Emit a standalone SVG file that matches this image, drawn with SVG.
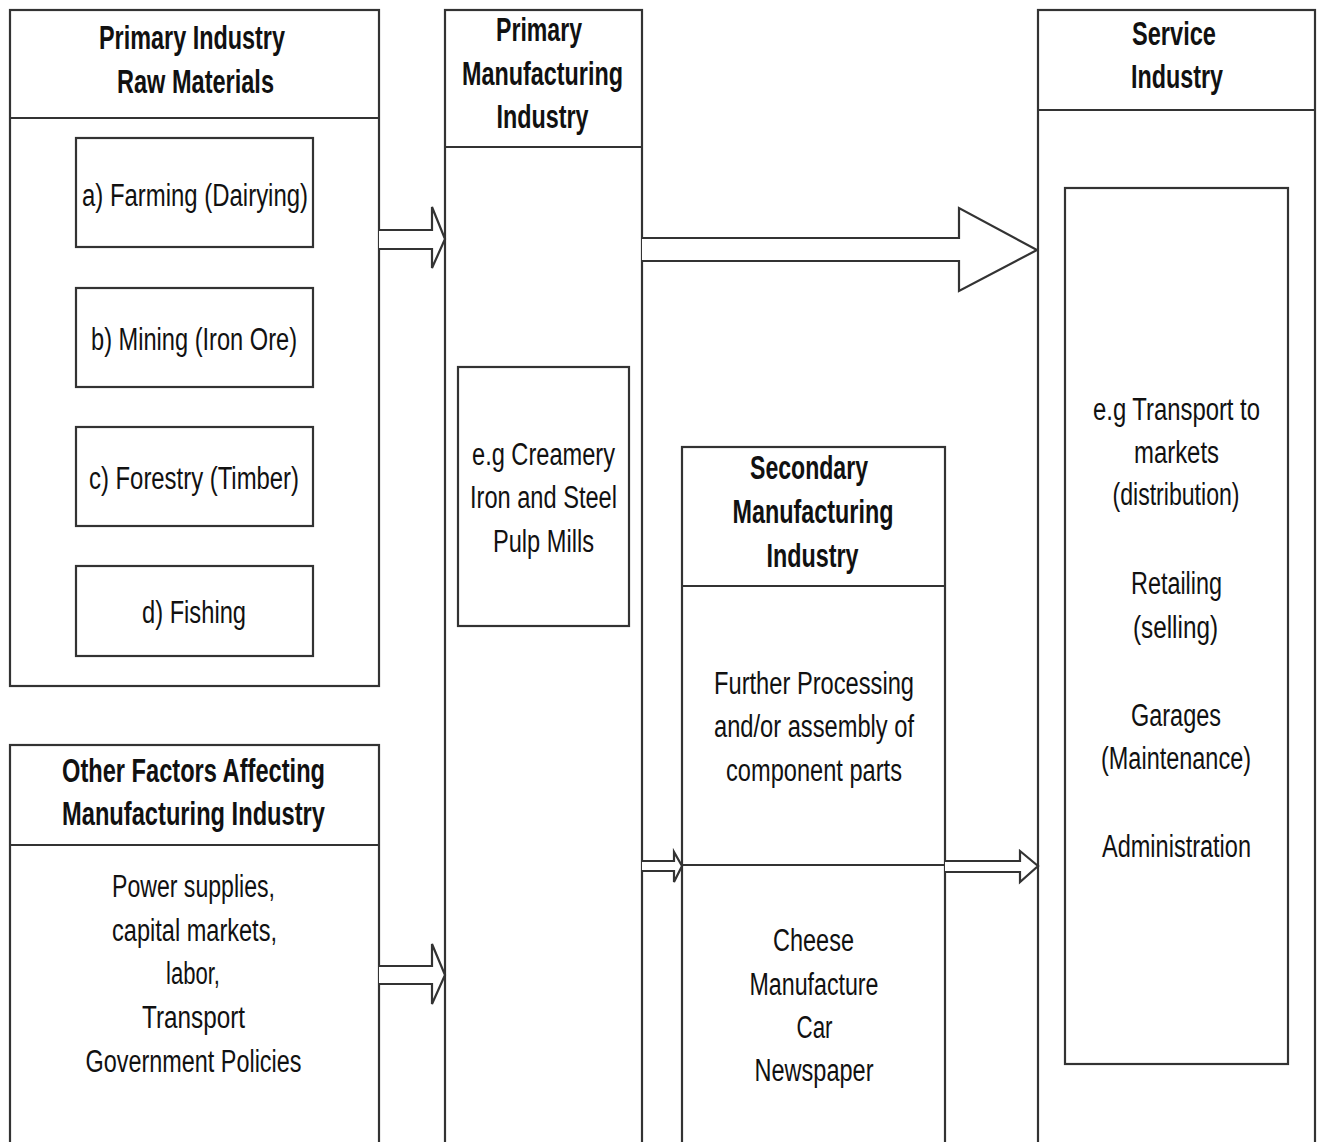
<svg xmlns="http://www.w3.org/2000/svg" width="1317" height="1142" viewBox="0 0 1317 1142">
<style>
.box{fill:#fff;stroke:#333;stroke-width:2.2}
.ln{stroke:#333;stroke-width:2.2;fill:none}
.arr{fill:#fff;stroke:#333;stroke-width:2.2;stroke-linejoin:miter}
text{font-family:"Liberation Sans",Arial,sans-serif;fill:#111;text-anchor:middle}
.h{font-size:33px;font-weight:bold}
.t{font-size:31px}
</style>
<rect width="1317" height="1142" fill="#fff"/>
<g id="primary-industry">
<rect class="box" x="10" y="10" width="369" height="676"/>
<line class="ln" x1="10" y1="118" x2="379" y2="118"/>
<text class="h" x="192" y="49" textLength="186" lengthAdjust="spacingAndGlyphs">Primary Industry</text>
<text class="h" x="195.5" y="93" textLength="157" lengthAdjust="spacingAndGlyphs">Raw Materials</text>
</g>
<g id="farming">
<rect class="box" x="76" y="138" width="237" height="109"/>
<text class="t" x="195" y="206" textLength="226" lengthAdjust="spacingAndGlyphs">a) Farming (Dairying)</text>
</g>
<g id="mining">
<rect class="box" x="76" y="288" width="237" height="99"/>
<text class="t" x="194" y="350" textLength="206" lengthAdjust="spacingAndGlyphs">b) Mining (Iron Ore)</text>
</g>
<g id="forestry">
<rect class="box" x="76" y="427" width="237" height="99"/>
<text class="t" x="194" y="489" textLength="210" lengthAdjust="spacingAndGlyphs">c) Forestry (Timber)</text>
</g>
<g id="fishing">
<rect class="box" x="76" y="566" width="237" height="90"/>
<text class="t" x="194" y="623" textLength="104" lengthAdjust="spacingAndGlyphs">d) Fishing</text>
</g>
<g id="other-factors">
<rect class="box" x="10" y="745" width="369" height="410"/>
<line class="ln" x1="10" y1="845" x2="379" y2="845"/>
<text class="h" x="193.5" y="782" textLength="263" lengthAdjust="spacingAndGlyphs">Other Factors Affecting</text>
<text class="h" x="193.5" y="825" textLength="263" lengthAdjust="spacingAndGlyphs">Manufacturing Industry</text>
<text class="t" x="193.5" y="897" textLength="163" lengthAdjust="spacingAndGlyphs">Power supplies,</text>
<text class="t" x="194.5" y="941" textLength="165" lengthAdjust="spacingAndGlyphs">capital markets,</text>
<text class="t" x="193" y="984" textLength="54" lengthAdjust="spacingAndGlyphs">labor,</text>
<text class="t" x="193.5" y="1028" textLength="103" lengthAdjust="spacingAndGlyphs">Transport</text>
<text class="t" x="193.5" y="1072" textLength="216" lengthAdjust="spacingAndGlyphs">Government Policies</text>
</g>
<g id="primary-manufacturing">
<rect class="box" x="445" y="10" width="197" height="1145"/>
<line class="ln" x1="445" y1="147" x2="642" y2="147"/>
<text class="h" x="539" y="41" textLength="86" lengthAdjust="spacingAndGlyphs">Primary</text>
<text class="h" x="542.5" y="85" textLength="161" lengthAdjust="spacingAndGlyphs">Manufacturing</text>
<text class="h" x="542.5" y="128" textLength="92" lengthAdjust="spacingAndGlyphs">Industry</text>
</g>
<g id="pm-examples">
<rect class="box" x="458" y="367" width="171" height="259"/>
<text class="t" x="543.5" y="465" textLength="143" lengthAdjust="spacingAndGlyphs">e.g Creamery</text>
<text class="t" x="543.5" y="508" textLength="147" lengthAdjust="spacingAndGlyphs">Iron and Steel</text>
<text class="t" x="543.5" y="552" textLength="101" lengthAdjust="spacingAndGlyphs">Pulp Mills</text>
</g>
<g id="secondary-manufacturing">
<rect class="box" x="682" y="447" width="263" height="708"/>
<line class="ln" x1="682" y1="586" x2="945" y2="586"/>
<line class="ln" x1="682" y1="865" x2="945" y2="865"/>
<text class="h" x="809" y="479" textLength="118" lengthAdjust="spacingAndGlyphs">Secondary</text>
<text class="h" x="813" y="523" textLength="161" lengthAdjust="spacingAndGlyphs">Manufacturing</text>
<text class="h" x="812.5" y="567" textLength="92" lengthAdjust="spacingAndGlyphs">Industry</text>
<text class="t" x="814" y="694" textLength="200" lengthAdjust="spacingAndGlyphs">Further Processing</text>
<text class="t" x="814" y="737" textLength="200" lengthAdjust="spacingAndGlyphs">and/or assembly of</text>
<text class="t" x="814" y="781" textLength="176" lengthAdjust="spacingAndGlyphs">component parts</text>
<text class="t" x="813.5" y="951" textLength="81" lengthAdjust="spacingAndGlyphs">Cheese</text>
<text class="t" x="814" y="995" textLength="129" lengthAdjust="spacingAndGlyphs">Manufacture</text>
<text class="t" x="814.5" y="1038" textLength="36" lengthAdjust="spacingAndGlyphs">Car</text>
<text class="t" x="814" y="1081" textLength="119" lengthAdjust="spacingAndGlyphs">Newspaper</text>
</g>
<g id="service-industry">
<rect class="box" x="1038" y="10" width="277" height="1145"/>
<line class="ln" x1="1038" y1="110" x2="1315" y2="110"/>
<text class="h" x="1174" y="45" textLength="84" lengthAdjust="spacingAndGlyphs">Service</text>
<text class="h" x="1177" y="88" textLength="92" lengthAdjust="spacingAndGlyphs">Industry</text>
</g>
<g id="service-examples">
<rect class="box" x="1065" y="188" width="223" height="876"/>
<text class="t" x="1176.5" y="420" textLength="167" lengthAdjust="spacingAndGlyphs">e.g Transport to</text>
<text class="t" x="1176.5" y="463" textLength="85" lengthAdjust="spacingAndGlyphs">markets</text>
<text class="t" x="1176" y="505" textLength="127" lengthAdjust="spacingAndGlyphs">(distribution)</text>
<text class="t" x="1176.5" y="594" textLength="91" lengthAdjust="spacingAndGlyphs">Retailing</text>
<text class="t" x="1175.5" y="638" textLength="85" lengthAdjust="spacingAndGlyphs">(selling)</text>
<text class="t" x="1176" y="726" textLength="90" lengthAdjust="spacingAndGlyphs">Garages</text>
<text class="t" x="1176" y="769" textLength="150" lengthAdjust="spacingAndGlyphs">(Maintenance)</text>
<text class="t" x="1176.5" y="857" textLength="149" lengthAdjust="spacingAndGlyphs">Administration</text>
</g>
<g id="connectors">
<path class="arr" d="M379,230 H432 V207 L445,239 L432,268 V249 H379"/>
<path class="arr" d="M642,238 H959 V208 L1037,250 L959,291 V261 H642"/>
<path class="arr" d="M642,861 H674 V852 L682,866 L674,882 V871 H642"/>
<path class="arr" d="M945,861 H1020 V851 L1038,866 L1020,882 V872 H945"/>
<path class="arr" d="M379,966 H432 V944 L445,975 L432,1004 V984 H379"/>
</g>
</svg>
